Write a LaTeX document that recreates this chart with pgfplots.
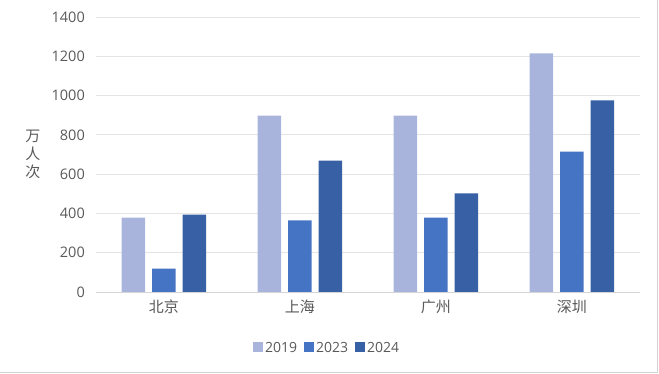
\documentclass[border=0pt]{standalone}
\usepackage{pgfplots}
\pgfplotsset{compat=1.18}
\usepackage{fontspec}
\setmainfont{Open Sans}
\newfontfamily\cjk{Noto Sans CJK SC}
\definecolor{cA}{HTML}{A9B4DC}
\definecolor{cB}{HTML}{4674C4}
\definecolor{cC}{HTML}{3761A4}
\definecolor{txt}{HTML}{595959}
\definecolor{gridc}{HTML}{E4E4E4}
\definecolor{axc}{HTML}{D4D4D4}
\begin{document}
\begin{tikzpicture}
\begin{axis}[
  at={(0pt,0pt)}, anchor=south west,
  scale only axis, width=544pt, height=275pt,
  xmin=-0.5, xmax=3.5, ymin=0, ymax=1400,
  ybar=7pt, bar width=23.5pt,
  ytick={0,200,...,1400},
  xtick={0,1,2,3}, xticklabels={北京,上海,广州,深圳},
  major tick length=0pt,
  axis x line*=bottom, axis y line*=left,
  y axis line style={draw=none},
  x axis line style={draw=axc, line width=0.8pt},
  ymajorgrids, grid style={draw=gridc, line width=0.8pt},
  /pgf/number format/assume math mode=true,
  /pgf/number format/1000 sep={},
  yticklabel style={font=\fontsize{14.5}{16}\selectfont, text=txt, anchor=east, xshift=-11pt, inner sep=0pt},
  xticklabel style={font=\cjk\fontsize{15}{16}\selectfont, text=txt, anchor=north, yshift=-8pt, inner sep=0pt},
  ylabel={万\\人\\次},
  ylabel style={font=\cjk\fontsize{15}{18}\selectfont, text=txt, align=center, rotate=-90, at={(axis description cs:-0.116,0.5)}, anchor=center},
  legend style={at={(axis description cs:0.425,-0.204)}, anchor=center, draw=none, fill=none,
    font=\fontsize{14}{15}\selectfont, text=txt, legend columns=-1,
    /tikz/every even column/.append style={column sep=5pt}},
  legend image code/.code={\fill[#1] (0pt,-4pt) rectangle (10pt,6pt);},
]
\addplot[fill=cA, draw=none] coordinates {(0,378) (1,898) (2,898) (3,1215)};
\addplot[fill=cB, draw=none] coordinates {(0,119) (1,365) (2,378) (3,714)};
\addplot[fill=cC, draw=none] coordinates {(0,394) (1,669) (2,502) (3,976)};
\legend{2019,2023,2024}
\end{axis}
\pgfresetboundingbox
\path[use as bounding box] (-96pt,-82pt) rectangle (563pt,292pt);
\draw[color=axc, line width=1pt] (561.5pt,292pt) -- (561.5pt,-80.5pt) -- (-96pt,-80.5pt);
\end{tikzpicture}
\end{document}
